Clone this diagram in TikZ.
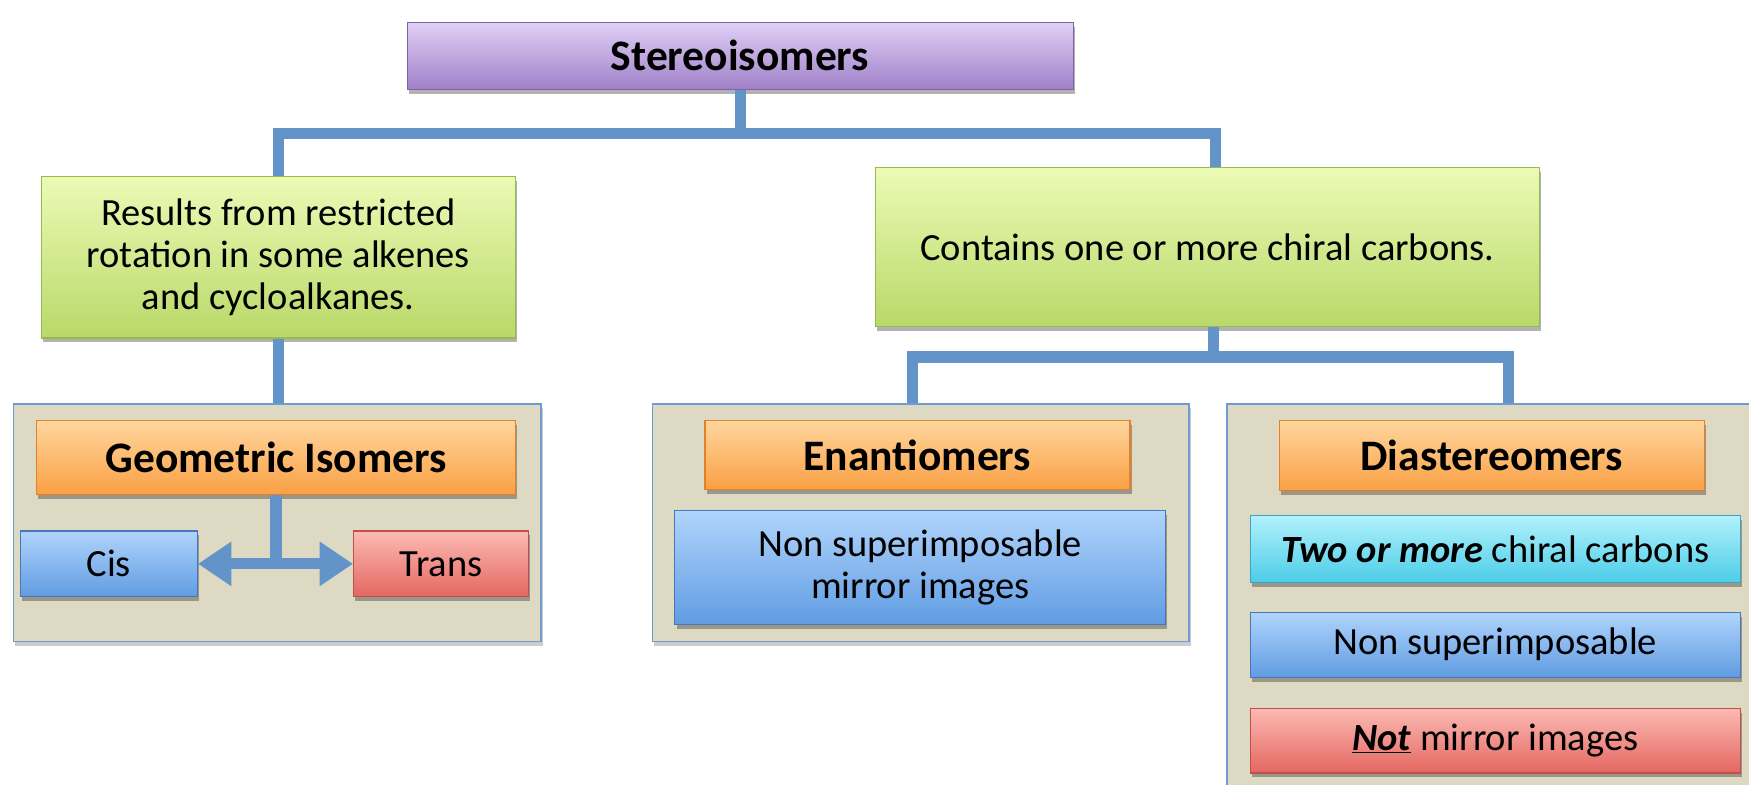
\documentclass[tikz,border=0pt]{standalone}
\usepackage{fontspec}
\setmainfont{Carlito}
\usetikzlibrary{shadows,arrows.meta}
\definecolor{connc}{RGB}{98,148,201}
\definecolor{purpleT}{RGB}{224,208,246}
\definecolor{purpleB}{RGB}{160,128,200}
\definecolor{purpleD}{RGB}{128,100,162}
\definecolor{greenT}{RGB}{236,250,182}
\definecolor{greenB}{RGB}{184,217,104}
\definecolor{greenD}{RGB}{150,185,80}
\definecolor{orangeT}{RGB}{255,214,158}
\definecolor{orangeB}{RGB}{250,160,68}
\definecolor{orangeD}{RGB}{228,128,38}
\definecolor{blueT}{RGB}{176,212,252}
\definecolor{blueB}{RGB}{96,156,226}
\definecolor{blueD}{RGB}{70,120,185}
\definecolor{redT}{RGB}{252,186,180}
\definecolor{redB}{RGB}{228,102,96}
\definecolor{redD}{RGB}{190,80,75}
\definecolor{cyanT}{RGB}{178,241,252}
\definecolor{cyanB}{RGB}{76,205,232}
\definecolor{cyanD}{RGB}{60,165,195}
\definecolor{contF}{RGB}{221,217,195}
\definecolor{contD}{RGB}{110,155,210}
\tikzset{
  box/.style={rectangle, inner sep=0pt, align=center, line width=1pt,
    drop shadow={shadow xshift=1.5pt, shadow yshift=-4pt, opacity=0.3, fill=black}},
  purplebox/.style={box, draw=purpleD, top color=purpleT, bottom color=purpleB},
  greenbox/.style={box, draw=greenD, top color=greenT, bottom color=greenB},
  orangebox/.style={box, draw=orangeD, top color=orangeT, bottom color=orangeB},
  bluebox/.style={box, draw=blueD, top color=blueT, bottom color=blueB},
  redbox/.style={box, draw=redD, top color=redT, bottom color=redB},
  cyanbox/.style={box, draw=cyanD, top color=cyanT, bottom color=cyanB},
  container/.style={rectangle, inner sep=0pt, fill=contF, draw=contD, line width=1.5pt,
    drop shadow={shadow xshift=1.5pt, shadow yshift=-4pt, opacity=0.2, fill=black}},
  conn/.style={draw=connc, line width=10pt, line join=miter},
  headfont/.style={font=\fontsize{39}{44}\selectfont\bfseries},
  bodyfont/.style={font=\fontsize{34.5}{37.5}\selectfont},
}
\begin{document}
\begin{tikzpicture}[x=1pt,y=-1pt]
\useasboundingbox (0,0) rectangle (1568,703);
\clip (0,0) rectangle (1568,703);
% containers
\node[container, minimum width=473pt, minimum height=213pt] (cont1) at (248.5,468.5) {};
\node[container, minimum width=481pt, minimum height=213pt] (cont2) at (825.5,468.5) {};
\node[container, minimum width=480pt, minimum height=358pt] (cont3) at (1340,541) {};
% boxes
\node[purplebox, headfont, minimum width=597pt, minimum height=60pt] (stereo) at (663.5,50) {Stereoisomers};
\node[greenbox, bodyfont, minimum width=425pt, minimum height=145pt] (resg) at (249.5,230.5)
  {Results from restricted\\rotation in some alkenes\\and cycloalkanes.};
\node[greenbox, bodyfont, minimum width=595pt, minimum height=143pt] (chiral) at (1082.5,221.5)
  {Contains one or more chiral carbons.};
\node[orangebox, headfont, minimum width=429pt, minimum height=66pt] (geo) at (247.5,410) {Geometric Isomers};
\node[bluebox, bodyfont, minimum width=159pt, minimum height=59pt] (cis) at (97.5,505.5) {Cis};
\node[redbox, bodyfont, minimum width=157pt, minimum height=59pt] (trans) at (395.5,505.5) {Trans};
\node[orangebox, headfont, minimum width=381pt, minimum height=62pt] (enan) at (822.5,408) {Enantiomers};
\node[bluebox, bodyfont, minimum width=440pt, minimum height=102pt] (nsmi) at (825,509)
  {Non superimposable\\mirror images};
\node[orangebox, headfont, minimum width=381pt, minimum height=63pt] (dia) at (1337.5,408.5) {Diastereomers};
\node[cyanbox, bodyfont, minimum width=439pt, minimum height=60pt] (two) at (1340.5,492)
  {\textbf{\textit{Two or more}} chiral carbons};
\node[bluebox, bodyfont, minimum width=439pt, minimum height=58pt] (ns) at (1340.5,578) {Non superimposable};
\node[redbox, bodyfont, minimum width=439pt, minimum height=58pt] (notm) at (1340.5,664)
  {\underline{\textbf{\textit{Not}}} mirror images};
% connectors
\coordinate (barL) at (250,120);
\coordinate (barR) at (1090,120);
\coordinate (stem2) at (1088,320);
\coordinate (bar2L) at (818,320);
\coordinate (bar2R) at (1352,320);
\draw[conn] (stereo.south) -- (stereo.south |- barL);
\draw[conn] (resg.north -| barL) -- (barL) -- (barR) -- (barR |- chiral.north);
\draw[conn] (resg.south) -- (resg.south |- cont1.north);
\draw[conn] (chiral.south -| stem2) -- (stem2);
\draw[conn] (bar2L |- cont2.north) -- (bar2L) -- (bar2R) -- (bar2R |- cont3.north);
\draw[conn] (geo.south) -- (geo.south |- cis.east);
\draw[conn, {Triangle[width=38pt,length=30pt]}-{Triangle[width=38pt,length=30pt]}] (cis.east) -- (trans.west);
\end{tikzpicture}
\end{document}
